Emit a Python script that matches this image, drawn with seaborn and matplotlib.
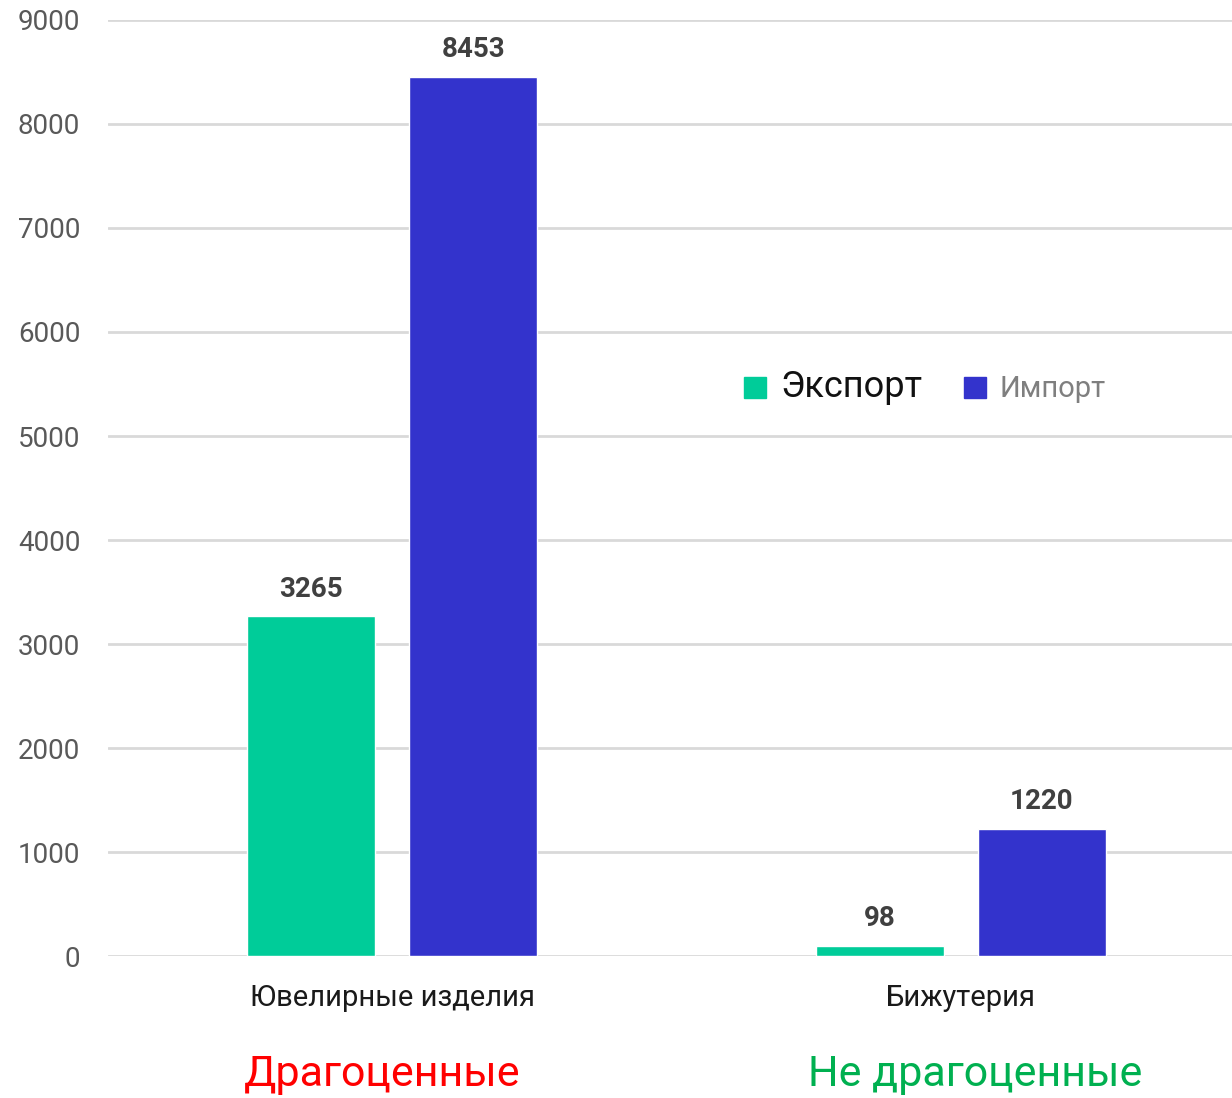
import seaborn as sns
import matplotlib.pyplot as plt
import matplotlib.transforms as mtransforms
from matplotlib.patches import Patch
import pandas as pd

categories = ["Ювелирные изделия", "Бижутерия"]
series = ["Экспорт", "Импорт"]
export_vals = [3265, 98]
import_vals = [8453, 1220]
groups = ["Драгоценные", "Не драгоценные"]
group_colors = ["#FF0000", "#00B050"]
bar_colors = {"Экспорт": "#00CC99", "Импорт": "#3333CC"}

df = pd.DataFrame({
    "cat": categories * 2,
    "series": [series[0]] * 2 + [series[1]] * 2,
    "value": export_vals + import_vals,
})

sns.set_theme(style="white")
plt.rcParams["font.family"] = ["Roboto", "DejaVu Sans"]

fig = plt.figure(figsize=(12.32, 10.98), dpi=100)
ax = fig.add_axes([0.0877, 0.1293, 0.923, 0.8525])

sns.barplot(data=df, x="cat", y="value", hue="series", palette=bar_colors,
            width=0.57, gap=0.21, legend=False, ax=ax, saturation=1)

ax.set_ylim(0, 9000)
ax.set_xlim(-0.5, 1.5)
ax.set_yticks(range(0, 9001, 1000))
ax.yaxis.grid(True, color="#D9D9D9", linewidth=2)
ax.set_axisbelow(True)
for s in ax.spines.values():
    s.set_visible(False)
ax.set_xlabel("")
ax.set_ylabel("")
ax.tick_params(axis="y", length=0, pad=20, labelsize=20, labelcolor="#595959")
ax.tick_params(axis="x", length=0, pad=20, labelsize=21, labelcolor="#1A1A1A")

for cont in ax.containers:
    ax.bar_label(cont, fmt="%d", padding=10, fontsize=20, fontweight="bold",
                 color="#404040")

# group captions under the categories (slightly off-center like the original)
trans = mtransforms.blended_transform_factory(ax.transData, fig.transFigure)
offsets = [-0.018, 0.025]
for i, (g, c) in enumerate(zip(groups, group_colors)):
    ax.text(i + offsets[i], 0.021, g, transform=trans, ha="center", va="center",
            fontsize=31, color=c)

handles = [Patch(color=bar_colors[s]) for s in series]
leg = ax.legend(handles, series, ncol=2, frameon=False, loc="center",
                bbox_to_anchor=(925 / 1232, 1 - 387 / 1098),
                bbox_transform=fig.transFigure, fontsize=20,
                handlelength=0.8, handleheight=0.8, handletextpad=0.5,
                columnspacing=1.5)
t1, t2 = leg.get_texts()
t1.set_fontsize(26)
t1.set_color("#111111")
t2.set_fontsize(21)
t2.set_color("#7F7F7F")

fig.savefig("out.png", dpi=100)
